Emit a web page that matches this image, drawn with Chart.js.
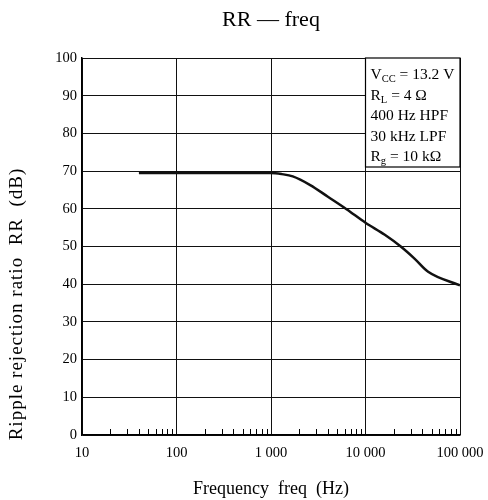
<!DOCTYPE html>
<html>
<head>
<meta charset="utf-8">
<script src="https://cdn.jsdelivr.net/npm/chart.js@4.4.0/dist/chart.umd.min.js"></script>
<style>
  html, body { margin: 0; padding: 0; background: #fff; }
  #box { width: 488px; height: 500px; }
</style>
</head>
<body>
<div id="box"><canvas id="myChart"></canvas></div>
<script>
  // data
  var freqHz = [40, 100, 300, 1000, 1300, 1700, 2600, 4000, 6300, 10000, 16000, 23600, 33000, 46000, 100000];
  var rrDb   = [69.5, 69.5, 69.5, 69.5, 69.2, 68.6, 66.3, 63.2, 59.9, 56.3, 53.1, 50.0, 46.8, 43.3, 39.7];

  var yTicks = [0, 10, 20, 30, 40, 50, 60, 70, 80, 90, 100];
  var xDecades = [10, 100, 1000, 10000, 100000];
  var xLabels = ['10', '100', '1 000', '10 000', '100 000'];

  var condLines = [
    ['V', 'CC', ' = 13.2 V'],
    ['R', 'L', ' = 4 Ω'],
    ['400 Hz HPF', '', ''],
    ['30 kHz LPF', '', ''],
    ['R', 'g', ' = 10 kΩ']
  ];
  var yTitle = 'Ripple rejection ratio  RR  (dB)';

  var serif = '"Liberation Serif", "DejaVu Serif", serif';

  // minor ticks inside bottom edge, the conditions box, y title
  const extras = {
    id: 'extras',
    afterDatasetsDraw(chart) {
      const c = chart.ctx, a = chart.chartArea, xs = chart.scales.x;
      c.save();
      c.strokeStyle = '#000';
      c.lineWidth = 1;
      for (let d = 0; d < xDecades.length - 1; d++) {
        for (let m = 2; m <= 9; m++) {
          const px = Math.round(xs.getPixelForValue(xDecades[d] * m)) + 0.5;
          c.beginPath();
          c.moveTo(px, a.bottom);
          c.lineTo(px, a.bottom - 6);
          c.stroke();
        }
      }
      // conditions box
      const bx = xs.getPixelForValue(10000), by = a.top, bw = a.right - bx, bh = 109;
      c.fillStyle = '#fff';
      c.fillRect(bx, by, bw, bh);
      c.lineWidth = 1.2;
      c.strokeRect(bx, by, bw, bh);
      c.fillStyle = '#000';
      c.textBaseline = 'alphabetic';
      condLines.forEach(function (ln, i) {
        let x = bx + 5, y = by + 21 + i * 20.5;
        c.font = '15.5px ' + serif;
        c.fillText(ln[0], x, y);
        x += c.measureText(ln[0]).width;
        if (ln[1]) {
          c.font = '10.5px ' + serif;
          c.fillText(ln[1], x, y + 3);
          x += c.measureText(ln[1]).width;
        }
        c.font = '15.5px ' + serif;
        c.fillText(ln[2], x, y);
      });
      // y axis title
      c.translate(17, 304);
      c.rotate(-Math.PI / 2);
      c.font = '19px ' + serif;
      c.textAlign = 'center';
      c.textBaseline = 'middle';
      c.letterSpacing = '1px';
      c.fillText(yTitle, 0, 0);
      c.restore();
    }
  };

  const data = {
    datasets: [{
      label: 'RR',
      data: freqHz.map(function (f, i) { return { x: f, y: rrDb[i] }; }),
      borderColor: '#111',
      borderWidth: 2.5,
      pointRadius: 0,
      cubicInterpolationMode: 'monotone',
      fill: false
    }]
  };

  const config = {
    type: 'line',
    data: data,
    options: {
      responsive: true,
      maintainAspectRatio: false,
      animation: false,
      layout: { padding: 0 },
      plugins: {
        legend: { display: false },
        tooltip: { enabled: false },
        title: {
          display: true,
          text: 'RR — freq',
          fullSize: false,
          color: '#000',
          font: { family: serif, size: 22, weight: 'normal' },
          padding: { top: 7, bottom: 24.6 }
        }
      },
      scales: {
        x: {
          type: 'logarithmic',
          min: 10,
          max: 100000,
          afterBuildTicks: function (s) {
            const t = [];
            for (let d = 0; d < xDecades.length; d++) {
              t.push({ value: xDecades[d], major: true });
            }
            s.ticks = t;
          },
          afterFit: function (s) {
            s.height = 65;
            s.paddingLeft = 0;
            s.paddingRight = 28;
          },
          ticks: {
            color: '#000',
            font: { family: serif, size: 14.5 },
            padding: 9,
            autoSkip: false,
            maxRotation: 0,
            callback: function (v) {
              const i = xDecades.indexOf(v);
              return i >= 0 ? xLabels[i] : '';
            }
          },
          grid: { color: '#111', lineWidth: 1, drawTicks: false },
          border: { color: '#000', width: 1.5 },
          title: {
            display: true,
            text: 'Frequency  freq  (Hz)',
            color: '#000',
            font: { family: serif, size: 18 },
            padding: { top: 10, bottom: 0 }
          }
        },
        y: {
          min: 0,
          max: 100,
          afterBuildTicks: function (s) {
            s.ticks = yTicks.map(function (v) { return { value: v }; });
          },
          afterFit: function (s) { s.width = 82; },
          ticks: {
            color: '#000',
            font: { family: serif, size: 14.5 },
            padding: 5
          },
          grid: { color: '#111', lineWidth: 1, drawTicks: false },
          border: { color: '#000', width: 1.5 }
        }
      }
    },
    plugins: [extras]
  };

  const myChart = new Chart(document.getElementById('myChart'), config);
</script>
</body>
</html>
